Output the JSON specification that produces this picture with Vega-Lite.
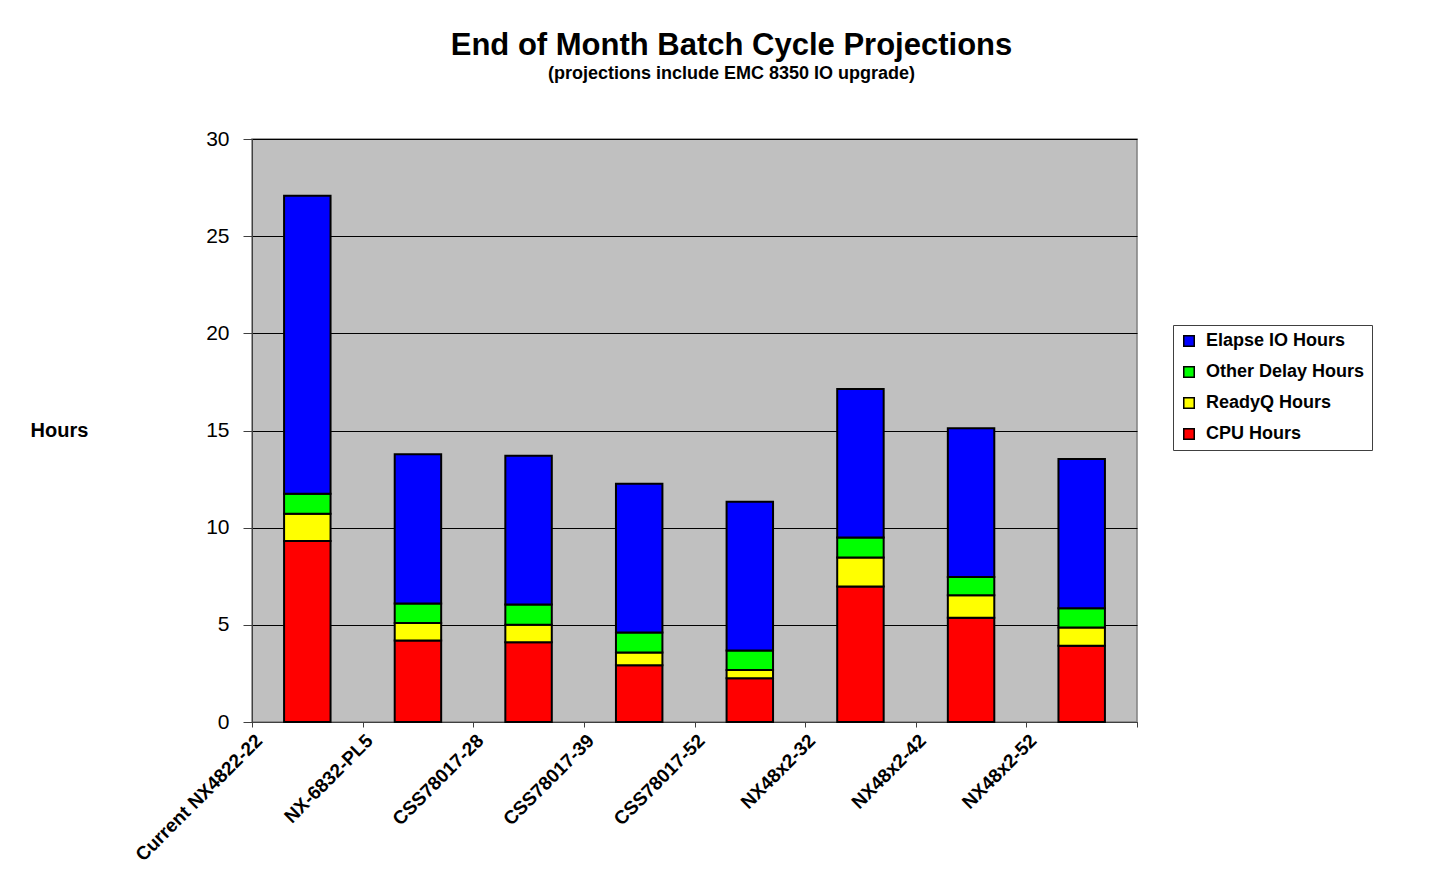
{
  "$schema": "https://vega.github.io/schema/vega-lite/v6.json",
  "autosize": "none",
  "width": 885,
  "height": 583,
  "padding": {"left": 252, "top": 139, "right": 309, "bottom": 157},
  "background": "white",
  "config": {
    "font": "Liberation Sans",
    "view": {"fill": "#C0C0C0", "stroke": "#808080", "strokeWidth": 1.5}
  },
  "title": {
    "text": "End of Month Batch Cycle Projections",
    "subtitle": "(projections include EMC 8350 IO upgrade)",
    "anchor": "middle",
    "frame": "group",
    "dx": 37,
    "offset": 44,
    "font": "Liberation Sans",
    "fontSize": 31,
    "fontWeight": "bold",
    "color": "black",
    "subtitleFont": "Liberation Sans",
    "subtitleFontSize": 18,
    "subtitleFontWeight": "bold",
    "subtitleColor": "black",
    "subtitlePadding": 3
  },
  "datasets": {
    "seriesOrder": [
      {"series": "CPU Hours", "rank": 1},
      {"series": "ReadyQ Hours", "rank": 2},
      {"series": "Other Delay Hours", "rank": 3},
      {"series": "Elapse IO Hours", "rank": 4}
    ]
  },
  "data": {
    "values": [
      {"config": "Current NX4822-22", "series": "CPU Hours", "hours": 9.32},
      {"config": "Current NX4822-22", "series": "ReadyQ Hours", "hours": 1.40},
      {"config": "Current NX4822-22", "series": "Other Delay Hours", "hours": 1.03},
      {"config": "Current NX4822-22", "series": "Elapse IO Hours", "hours": 15.33},
      {"config": "NX-6832-PL5", "series": "CPU Hours", "hours": 4.19},
      {"config": "NX-6832-PL5", "series": "ReadyQ Hours", "hours": 0.90},
      {"config": "NX-6832-PL5", "series": "Other Delay Hours", "hours": 1.01},
      {"config": "NX-6832-PL5", "series": "Elapse IO Hours", "hours": 7.68},
      {"config": "CSS78017-28", "series": "CPU Hours", "hours": 4.10},
      {"config": "CSS78017-28", "series": "ReadyQ Hours", "hours": 0.91},
      {"config": "CSS78017-28", "series": "Other Delay Hours", "hours": 1.03},
      {"config": "CSS78017-28", "series": "Elapse IO Hours", "hours": 7.66},
      {"config": "CSS78017-39", "series": "CPU Hours", "hours": 2.92},
      {"config": "CSS78017-39", "series": "ReadyQ Hours", "hours": 0.65},
      {"config": "CSS78017-39", "series": "Other Delay Hours", "hours": 1.03},
      {"config": "CSS78017-39", "series": "Elapse IO Hours", "hours": 7.66},
      {"config": "CSS78017-52", "series": "CPU Hours", "hours": 2.25},
      {"config": "CSS78017-52", "series": "ReadyQ Hours", "hours": 0.42},
      {"config": "CSS78017-52", "series": "Other Delay Hours", "hours": 1.01},
      {"config": "CSS78017-52", "series": "Elapse IO Hours", "hours": 7.66},
      {"config": "NX48x2-32", "series": "CPU Hours", "hours": 6.97},
      {"config": "NX48x2-32", "series": "ReadyQ Hours", "hours": 1.49},
      {"config": "NX48x2-32", "series": "Other Delay Hours", "hours": 1.03},
      {"config": "NX48x2-32", "series": "Elapse IO Hours", "hours": 7.64},
      {"config": "NX48x2-42", "series": "CPU Hours", "hours": 5.37},
      {"config": "NX48x2-42", "series": "ReadyQ Hours", "hours": 1.15},
      {"config": "NX48x2-42", "series": "Other Delay Hours", "hours": 0.94},
      {"config": "NX48x2-42", "series": "Elapse IO Hours", "hours": 7.65},
      {"config": "NX48x2-52", "series": "CPU Hours", "hours": 3.93},
      {"config": "NX48x2-52", "series": "ReadyQ Hours", "hours": 0.93},
      {"config": "NX48x2-52", "series": "Other Delay Hours", "hours": 0.99},
      {"config": "NX48x2-52", "series": "Elapse IO Hours", "hours": 7.68}
    ]
  },
  "transform": [
    {"lookup": "series", "from": {"data": {"name": "seriesOrder"}, "key": "series", "fields": ["rank"]}}
  ],
  "mark": {"type": "bar", "stroke": "black", "strokeWidth": 2, "width": {"band": 0.42}},
  "encoding": {
    "x": {
      "field": "config",
      "type": "nominal",
      "sort": null,
      "scale": {"paddingInner": 0, "paddingOuter": 0},
      "axis": {
        "title": null,
        "tickBand": "extent",
        "labelAngle": -45,
        "labelAlign": "right",
        "labelBaseline": "top",
        "labelOffset": -55,
        "labelFont": "Liberation Sans",
        "labelFontSize": 19,
        "labelFontWeight": "bold",
        "labelColor": "black",
        "labelPadding": 4,
        "labelLimit": 300,
        "labelOverlap": false,
        "tickSize": 5,
        "tickColor": "#404040",
        "domainColor": "#404040",
        "grid": false
      }
    },
    "y": {
      "field": "hours",
      "type": "quantitative",
      "stack": "zero",
      "scale": {"domain": [0, 30], "nice": false},
      "axis": {
        "title": "Hours",
        "titleAngle": 0,
        "titleAlign": "left",
        "titleBaseline": "middle",
        "titleX": -222,
        "titleY": 291,
        "titleFont": "Liberation Sans",
        "titleFontSize": 20,
        "titleFontWeight": "bold",
        "titleColor": "black",
        "values": [0, 5, 10, 15, 20, 25, 30],
        "labelFont": "Liberation Sans",
        "labelFontSize": 21,
        "labelColor": "black",
        "labelPadding": 14,
        "tickSize": 9,
        "tickColor": "#404040",
        "domainColor": "#404040",
        "grid": true,
        "gridColor": "black",
        "gridWidth": 1.2,
        "gridOpacity": 1
      }
    },
    "order": {"field": "rank", "type": "quantitative", "sort": "ascending"},
    "color": {
      "field": "series",
      "type": "nominal",
      "scale": {
        "domain": ["Elapse IO Hours", "Other Delay Hours", "ReadyQ Hours", "CPU Hours"],
        "range": ["#0000FF", "#00FF00", "#FFFF00", "#FF0000"]
      },
      "legend": {
        "title": null,
        "orient": "none",
        "legendX": 921,
        "legendY": 186,
        "strokeColor": "#404040",
        "fillColor": "white",
        "padding": 7,
        "symbolType": "square",
        "symbolSize": 110,
        "symbolStrokeColor": "black",
        "symbolStrokeWidth": 1.5,
        "symbolOpacity": 1,
        "labelFont": "Liberation Sans",
        "labelFontSize": 18,
        "labelFontWeight": "bold",
        "labelColor": "black",
        "labelOffset": 8,
        "rowPadding": 13,
        "labelLimit": 400
      }
    }
  }
}
